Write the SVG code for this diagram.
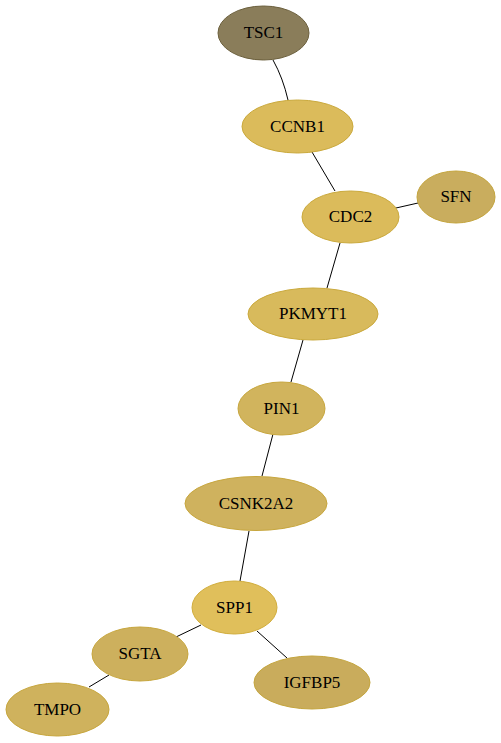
<svg xmlns="http://www.w3.org/2000/svg" width="501" height="743" viewBox="0 0 501 743">
<style>
.n ellipse{stroke-width:1}
.n text{font-family:"Liberation Serif","Times New Roman",serif;font-size:17px;text-anchor:middle;fill:#000}
.e path{stroke:#000;stroke-width:1;fill:none}
</style>
<rect width="501" height="743" fill="#fff"/>
<g id="edges" class="e">
<path d="M273,60 Q283,78 288,100"/>
<path d="M312,152 L335,191"/>
<path d="M396,208 L418,203"/>
<path d="M340,243 L327,288"/>
<path d="M303,340 L291,382"/>
<path d="M273,434 L262,476"/>
<path d="M249,531 L240,581"/>
<path d="M201,625 L176,637"/>
<path d="M257,631 L287,658"/>
<path d="M109,675 L89,687"/>
</g>
<g id="TSC1" class="n"><ellipse cx="263.5" cy="33" rx="45.5" ry="27" fill="#8a7d5a" stroke="#6b5f3c"/><text x="263.5" y="38">TSC1</text></g>
<g id="CCNB1" class="n"><ellipse cx="297.5" cy="126.5" rx="55.5" ry="26.5" fill="#dbbb5b" stroke="#caa93c"/><text x="297.5" y="131.5">CCNB1</text></g>
<g id="CDC2" class="n"><ellipse cx="350.5" cy="217" rx="48.5" ry="26" fill="#dbbb5b" stroke="#caa93c"/><text x="350.5" y="222">CDC2</text></g>
<g id="SFN" class="n"><ellipse cx="456" cy="197" rx="39" ry="26" fill="#c9ad5e" stroke="#c4a53e"/><text x="456" y="202">SFN</text></g>
<g id="PKMYT1" class="n"><ellipse cx="313" cy="314" rx="65" ry="26" fill="#d8ba5c" stroke="#caa93c"/><text x="313" y="319">PKMYT1</text></g>
<g id="PIN1" class="n"><ellipse cx="281.5" cy="408.5" rx="43.5" ry="26.5" fill="#d1b45d" stroke="#c7a63d"/><text x="281.5" y="413.5">PIN1</text></g>
<g id="CSNK2A2" class="n"><ellipse cx="256" cy="503.5" rx="71" ry="27" fill="#cfb25e" stroke="#c7a63d"/><text x="256" y="508.5">CSNK2A2</text></g>
<g id="SPP1" class="n"><ellipse cx="234.5" cy="607.5" rx="42.5" ry="26.5" fill="#e0bf5b" stroke="#d1ad3c"/><text x="234.5" y="612.5">SPP1</text></g>
<g id="SGTA" class="n"><ellipse cx="140" cy="654" rx="48" ry="27" fill="#cdb05d" stroke="#c7a63d"/><text x="140" y="659">SGTA</text></g>
<g id="TMPO" class="n"><ellipse cx="57.5" cy="709.5" rx="51.5" ry="26.5" fill="#cfb25d" stroke="#c7a63d"/><text x="57.5" y="714.5">TMPO</text></g>
<g id="IGFBP5" class="n"><ellipse cx="312" cy="682.5" rx="58" ry="26.5" fill="#c9ac5c" stroke="#c4a53e"/><text x="312" y="687.5">IGFBP5</text></g>
</svg>
